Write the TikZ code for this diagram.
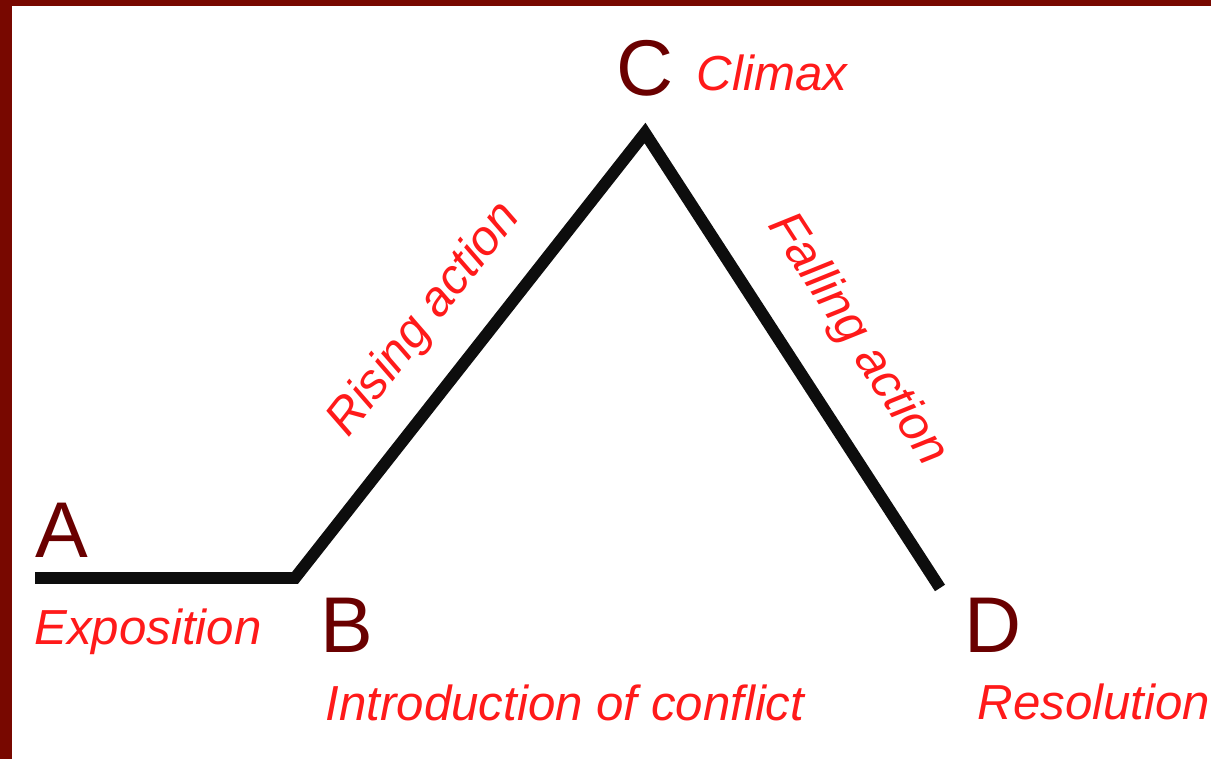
\documentclass[tikz,border=0pt]{standalone}
\usepackage{fontspec}
\setmainfont{Liberation Sans}
\usepackage{tikz}
\usetikzlibrary{positioning}
\definecolor{frame}{HTML}{780800}
\definecolor{letterred}{HTML}{6A0000}
\definecolor{notered}{HTML}{FF1A1A}
\tikzset{
  letter/.style={letterred, inner sep=0pt, font=\fontsize{45}{48}\selectfont},
  caption/.style={notered, inner sep=0pt, font=\fontsize{28}{30}\selectfont\itshape},
  plot line/.style={line width=6.8pt, black!95}
}

\begin{document}
\begin{tikzpicture}[x=0.02cm, y=0.02cm]
\useasboundingbox (0,0) rectangle (1211,759);
% Frame
\fill[frame] (0,0) rectangle (12,759);
\fill[frame] (0,753) rectangle (1211,759);
% Plot line
\coordinate (ptA) at (35,181);
\coordinate (ptB) at (295,181);
\coordinate (ptC) at (645,626);
\coordinate (ptD) at (940,171);
\draw[plot line] (ptA) -- (ptB) -- (ptC) -- (ptD);
% Letters
\node[letter] (lA) at (62,229) {A};
\node[letter] (lB) at (347,134) {B};
\node[letter] (lC) at (645,691) {C};
\node[letter] (lD) at (993,134) {D};
% Labels
\node[caption] (expo) at (148,127) {Exposition};
\node[caption] (intro) at (565,56) {Introduction of conflict};
\node[caption] (climax) at (772,686) {Climax};
\node[caption] (resol) at (1094,57) {Resolution};
\node[caption, rotate=52] (rising) at (425,439) {Rising action};
\node[caption, rotate=-57] (falling) at (857,419) {Falling action};
\end{tikzpicture}
\end{document}
